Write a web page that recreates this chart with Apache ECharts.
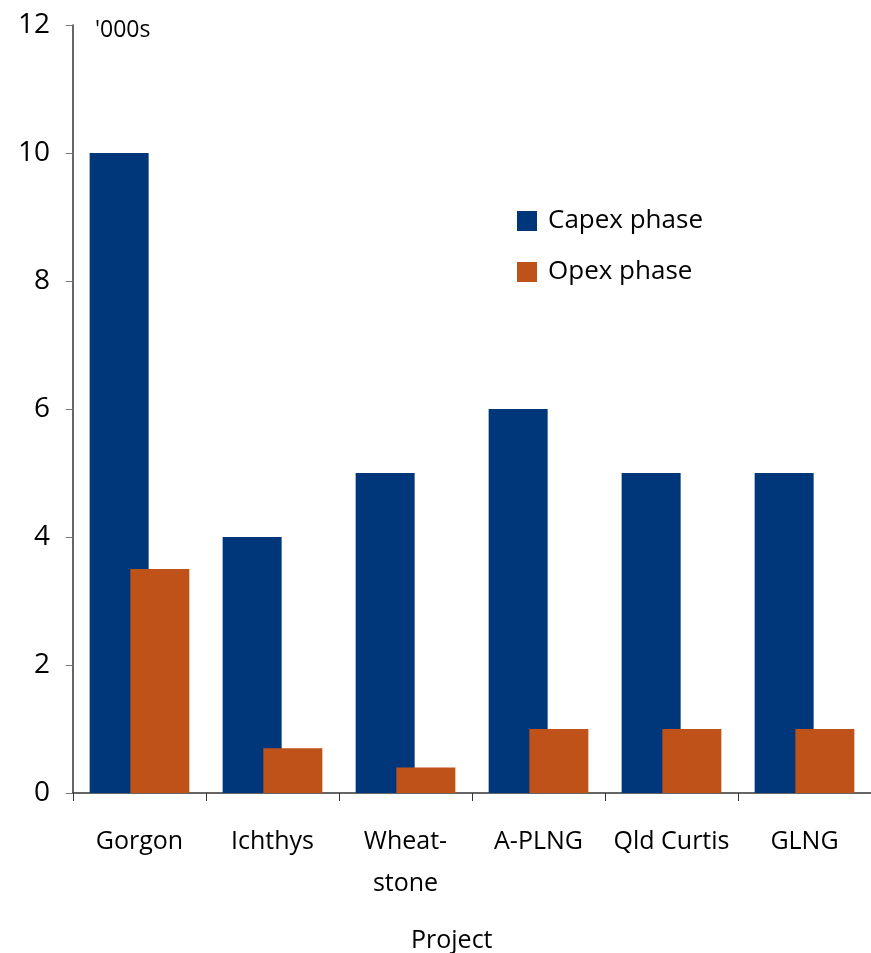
<!DOCTYPE html>
<html>
<head>
<meta charset="utf-8">
<script src="https://cdn.jsdelivr.net/npm/echarts@6/dist/echarts.min.js"></script>
<style>
  html, body { margin: 0; padding: 0; background: #fff; }
  #chart { width: 871px; height: 953px; }
</style>
</head>
<body>
<div id="chart"></div>
<script>
// LNG project workforce ('000s) by construction and operating phase
const projects = ['Gorgon', 'Ichthys', 'Wheat-\nstone', 'A-PLNG', 'Qld Curtis', 'GLNG'];
const capexPhase = [10, 4, 5, 6, 5, 5];
const opexPhase = [3.5, 0.7, 0.4, 1, 1, 1];
const yTicks = [0, 2, 4, 6, 8, 10, 12];

const FONT = 'Open Sans';
const BLUE = '#00377a';
const ORANGE = '#be5219';
const AXIS = '#333333';

const chart = echarts.init(document.getElementById('chart'), null, { renderer: 'canvas' });

chart.setOption({
  animation: false,
  backgroundColor: '#ffffff',
  textStyle: { fontFamily: FONT, color: '#000' },
  title: [
    { text: "'000s", left: 90, top: 14, textStyle: { fontFamily: FONT, fontSize: 23, fontWeight: 'normal', color: '#000' } },
    { text: 'Project', left: 406, top: 923, textStyle: { fontFamily: FONT, fontSize: 25, fontWeight: 'normal', color: '#000' } }
  ],
  legend: {
    orient: 'vertical',
    left: 512,
    top: 203,
    itemWidth: 20,
    itemHeight: 20,
    itemGap: 25,
    icon: 'rect',
    textStyle: { fontFamily: FONT, fontSize: 26, lineHeight: 20, color: '#000', padding: [0, 0, 0, 6] },
    data: ['Capex phase', 'Opex phase']
  },
  grid: { left: 73, right: -4, top: 25, bottom: 160, containLabel: false },
  xAxis: {
    type: 'category',
    data: projects,
    axisLine: { lineStyle: { color: AXIS, width: 1.5 } },
    axisTick: { show: true, length: 8, lineStyle: { color: AXIS } },
    axisLabel: { fontFamily: FONT, fontSize: 25, color: '#000', margin: 28, lineHeight: 42, interval: 0 }
  },
  yAxis: {
    type: 'value',
    min: yTicks[0],
    max: yTicks[yTicks.length - 1],
    interval: 2,
    splitLine: { show: false },
    axisLine: { show: true, lineStyle: { color: AXIS, width: 1.5 } },
    axisTick: { show: true, length: 7, lineStyle: { color: '#777' } },
    axisLabel: { fontFamily: FONT, fontSize: 28, color: '#000', margin: 23 }
  },
  series: [
    {
      name: 'Capex phase',
      type: 'bar',
      data: capexPhase,
      barWidth: 59,
      barGap: '-31%',
      itemStyle: { color: BLUE }
    },
    {
      name: 'Opex phase',
      type: 'bar',
      data: opexPhase,
      barWidth: 59,
      barGap: '-31%',
      itemStyle: { color: ORANGE }
    }
  ]
});
</script>
</body>
</html>
